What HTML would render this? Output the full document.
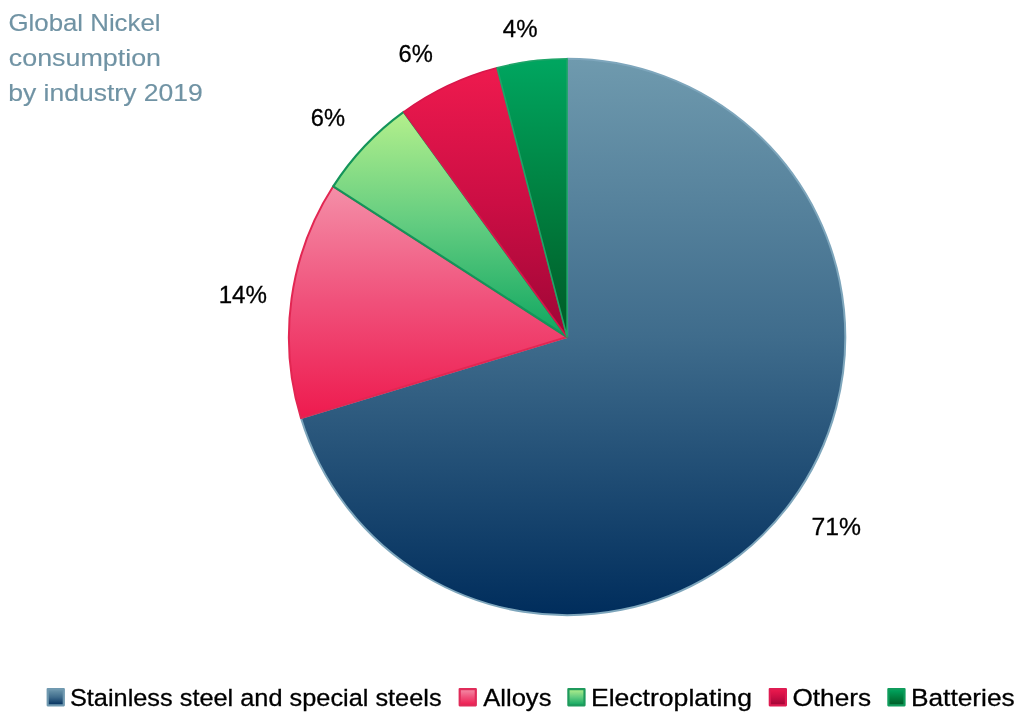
<!DOCTYPE html>
<html lang="en">
<head>
<meta charset="utf-8">
<title>Global Nickel consumption by industry 2019</title>
<style>
html,body{margin:0;padding:0;background:#fff;}
body{width:1024px;height:723px;overflow:hidden;}
svg{display:block;}
text{font-family:"Liberation Sans",sans-serif;font-size:24.5px;fill:#000;stroke:#000;stroke-width:0.3px;}
.title text{fill:#7093a4;stroke:#7093a4;stroke-width:0.15px;}
</style>
</head>
<body>
<svg width="1024" height="723" viewBox="0 0 1024 723">
<defs>
<linearGradient id="g-steel" x1="0" y1="0" x2="0" y2="1"><stop offset="0" stop-color="#6f9aae"/><stop offset="0.5" stop-color="#3f6c8c"/><stop offset="1" stop-color="#002d5c"/></linearGradient>
<linearGradient id="g-alloy" x1="0" y1="0" x2="0" y2="1"><stop offset="0" stop-color="#f48fa8"/><stop offset="0.5" stop-color="#f0507a"/><stop offset="1" stop-color="#ee1a4e"/></linearGradient>
<linearGradient id="g-electro" x1="0" y1="0" x2="0" y2="1"><stop offset="0" stop-color="#b4f08c"/><stop offset="0.5" stop-color="#62cc80"/><stop offset="1" stop-color="#0ea660"/></linearGradient>
<linearGradient id="g-others" x1="0" y1="0" x2="0" y2="1"><stop offset="0" stop-color="#ee1a4e"/><stop offset="0.5" stop-color="#cc0e44"/><stop offset="1" stop-color="#9e0636"/></linearGradient>
<linearGradient id="g-batt" x1="0" y1="0" x2="0" y2="1"><stop offset="0" stop-color="#00a660"/><stop offset="0.5" stop-color="#008040"/><stop offset="1" stop-color="#005a26"/></linearGradient>
</defs>
<rect width="1024" height="723" fill="#ffffff"/>
<g class="pie">
<path d="M567.10,337.00 L567.10,58.80 A278.2,278.2 0 1 1 300.96,418.02 Z" fill="url(#g-steel)" stroke="#7ea6bc" stroke-width="2.0" stroke-linejoin="round"/>
<path d="M567.10,337.00 L300.96,418.02 A278.2,278.2 0 0 1 333.24,186.31 Z" fill="url(#g-alloy)" stroke="#e22652" stroke-width="2.0" stroke-linejoin="round"/>
<path d="M567.10,337.00 L333.24,186.31 A278.2,278.2 0 0 1 403.72,111.83 Z" fill="url(#g-electro)" stroke="#14945a" stroke-width="2.2" stroke-linejoin="round"/>
<path d="M567.10,337.00 L403.72,111.83 A278.2,278.2 0 0 1 497.07,67.76 Z" fill="url(#g-others)" stroke="#d8164a" stroke-width="1.6" stroke-linejoin="round"/>
<path d="M567.10,337.00 L497.07,67.76 A278.2,278.2 0 0 1 567.10,58.80 Z" fill="url(#g-batt)" stroke="#1fa468" stroke-width="1.6" stroke-linejoin="round"/>
</g>
<g class="title">
<text id="t1" x="8.48" y="31.1" textLength="152.06" lengthAdjust="spacingAndGlyphs">Global Nickel</text>
<text id="t2" x="8.82" y="65.6" textLength="152.19" lengthAdjust="spacingAndGlyphs">consumption</text>
<text id="t3" x="8.27" y="100.6" textLength="194.45" lengthAdjust="spacingAndGlyphs">by industry 2019</text>
</g>
<g class="labels">
<text id="l4" x="502.81" y="37.1" textLength="34.71" lengthAdjust="spacingAndGlyphs">4%</text>
<text id="l6a" x="398.44" y="62.3" textLength="34.31" lengthAdjust="spacingAndGlyphs">6%</text>
<text id="l6b" x="310.85" y="125.5" textLength="34.24" lengthAdjust="spacingAndGlyphs">6%</text>
<text id="l14" x="218.69" y="302.6" textLength="48.30" lengthAdjust="spacingAndGlyphs">14%</text>
<text id="l71" x="811.56" y="535.3" textLength="49.48" lengthAdjust="spacingAndGlyphs">71%</text>
</g>
<g class="legend">
<rect x="47.7" y="689.1" width="16.1" height="16.2" fill="url(#g-steel)" stroke="#7099b0" stroke-width="2.2" stroke-linejoin="round"/>
<rect x="459.7" y="689.1" width="16.1" height="16.2" fill="url(#g-alloy)" stroke="#e02c5a" stroke-width="2.2" stroke-linejoin="round"/>
<rect x="568.4" y="689.1" width="16.1" height="16.2" fill="url(#g-electro)" stroke="#1f9a5c" stroke-width="2.2" stroke-linejoin="round"/>
<rect x="769.8" y="689.1" width="16.1" height="16.2" fill="url(#g-others)" stroke="#de1c52" stroke-width="2.2" stroke-linejoin="round"/>
<rect x="888.4" y="689.1" width="16.1" height="16.2" fill="url(#g-batt)" stroke="#109c5c" stroke-width="2.2" stroke-linejoin="round"/>
<text id="g1" x="69.95" y="705.5" textLength="371.65" lengthAdjust="spacingAndGlyphs">Stainless steel and special steels</text>
<text id="g2" x="483.22" y="705.5" textLength="68.24" lengthAdjust="spacingAndGlyphs">Alloys</text>
<text id="g3" x="590.93" y="705.5" textLength="161.01" lengthAdjust="spacingAndGlyphs">Electroplating</text>
<text id="g4" x="792.48" y="705.5" textLength="78.61" lengthAdjust="spacingAndGlyphs">Others</text>
<text id="g5" x="910.94" y="705.5" textLength="103.76" lengthAdjust="spacingAndGlyphs">Batteries</text>
</g>
</svg>
</body>
</html>
